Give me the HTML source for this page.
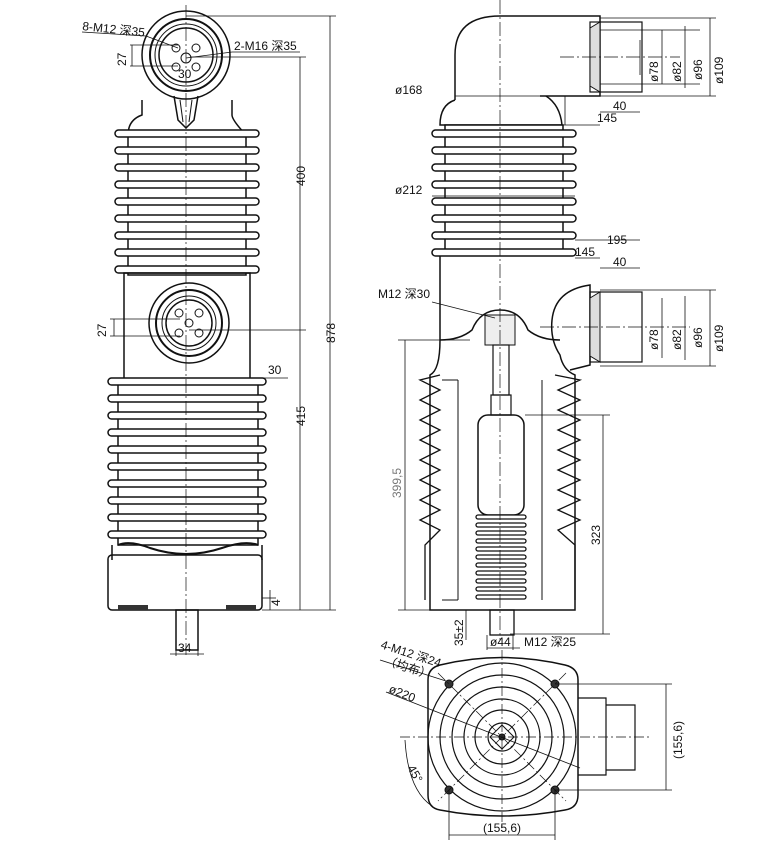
<!DOCTYPE html>
<html><head><meta charset="utf-8"><style>
html,body{margin:0;padding:0;background:#fff;}
svg{display:block;}
text{font-family:"Liberation Sans","Noto Sans CJK SC",sans-serif;font-size:12px;fill:#111;stroke:none;}
</style></head><body>
<svg width="784" height="849" viewBox="0 0 784 849" xmlns="http://www.w3.org/2000/svg" fill="none" stroke="#111" stroke-width="1">
<!-- ===== LEFT VIEW ===== -->
<path d="M142 100 L142 115 Q128 120 128 135 L246 135 Q232 120 232 115 L232 100" stroke-width="1.5"/>
<circle cx="186" cy="55" r="44" stroke-width="1.5"/>
<circle cx="186" cy="55" r="36" stroke-width="2"/>
<circle cx="186" cy="55" r="31"/>
<circle cx="186" cy="55" r="27" stroke-width="1.5"/>
<circle cx="186" cy="58" r="5"/>
<circle cx="176" cy="48" r="4"/><circle cx="196" cy="48" r="4"/>
<circle cx="176" cy="67" r="4"/><circle cx="196" cy="67" r="4"/>
<path d="M174 96 L178 120 L186 128 L194 120 L198 96" stroke-width="1.5"/>
<path d="M180 100 L183 122 M192 100 L189 122"/>
<rect x="128" y="135" width="118" height="140" fill="#fff" stroke-width="1.5"/>
<g stroke-width="1.5" fill="#fff">
<rect x="115" y="130" width="144" height="7" rx="3.5"/>
<rect x="115" y="147" width="144" height="7" rx="3.5"/>
<rect x="115" y="164" width="144" height="7" rx="3.5"/>
<rect x="115" y="181" width="144" height="7" rx="3.5"/>
<rect x="115" y="198" width="144" height="7" rx="3.5"/>
<rect x="115" y="215" width="144" height="7" rx="3.5"/>
<rect x="115" y="232" width="144" height="7" rx="3.5"/>
<rect x="115" y="249" width="144" height="7" rx="3.5"/>
<rect x="115" y="266" width="144" height="7" rx="3.5"/>
</g>
<rect x="124" y="273" width="126" height="107" stroke-width="1.5"/>
<circle cx="189" cy="323" r="40" stroke-width="1.5"/>
<circle cx="189" cy="323" r="33" stroke-width="2"/>
<circle cx="189" cy="323" r="27"/>
<circle cx="189" cy="323" r="23" stroke-width="1.5"/>
<circle cx="189" cy="323" r="4"/>
<circle cx="179" cy="313" r="4"/><circle cx="199" cy="313" r="4"/>
<circle cx="179" cy="333" r="4"/><circle cx="199" cy="333" r="4"/>
<rect x="118" y="380" width="140" height="165" fill="#fff" stroke-width="1.5"/>
<g stroke-width="1.5" fill="#fff">
<rect x="108" y="378" width="158" height="7" rx="3.5"/>
<rect x="108" y="395" width="158" height="7" rx="3.5"/>
<rect x="108" y="412" width="158" height="7" rx="3.5"/>
<rect x="108" y="429" width="158" height="7" rx="3.5"/>
<rect x="108" y="446" width="158" height="7" rx="3.5"/>
<rect x="108" y="463" width="158" height="7" rx="3.5"/>
<rect x="108" y="480" width="158" height="7" rx="3.5"/>
<rect x="108" y="497" width="158" height="7" rx="3.5"/>
<rect x="108" y="514" width="158" height="7" rx="3.5"/>
<rect x="108" y="531" width="158" height="7" rx="3.5"/>
</g>
<path d="M118 545 Q130 540 150 548 Q186 560 222 548 Q245 540 258 545" stroke-width="2"/>
<rect x="108" y="555" width="154" height="55" rx="4" stroke-width="1.5"/>
<path d="M112 545 L112 560 M262 545 L262 560" stroke-width="1.5"/>
<rect x="118" y="605" width="30" height="5" fill="#333" stroke="none"/>
<rect x="226" y="605" width="30" height="5" fill="#333" stroke="none"/>
<rect x="176" y="610" width="22" height="40" stroke-width="1.5"/>
<line x1="186" y1="5" x2="186" y2="655" stroke-width="0.7" stroke-dasharray="14 3 2 3"/>
<g stroke-width="0.8">
<line x1="186" y1="16" x2="336" y2="16"/>
<line x1="330" y1="16" x2="330" y2="610"/>
<line x1="262" y1="610" x2="336" y2="610"/>
<line x1="190" y1="57" x2="306" y2="57"/>
<line x1="300" y1="57" x2="300" y2="610"/>
<line x1="189" y1="330" x2="306" y2="330"/>
<line x1="260" y1="378" x2="288" y2="378"/>
<line x1="262" y1="598" x2="276" y2="598"/>
<line x1="270" y1="590" x2="270" y2="610"/>
<line x1="130" y1="45" x2="178" y2="45"/><line x1="130" y1="66" x2="178" y2="66"/>
<line x1="132" y1="45" x2="132" y2="66"/>
<line x1="110" y1="319" x2="180" y2="319"/><line x1="110" y1="336" x2="180" y2="336"/>
<line x1="114" y1="319" x2="114" y2="336"/>
<line x1="82" y1="32" x2="146" y2="36"/><line x1="146" y1="36" x2="178" y2="48"/>
<line x1="186" y1="58" x2="232" y2="52"/><line x1="232" y1="52" x2="300" y2="52"/>
<line x1="176" y1="650" x2="176" y2="656"/><line x1="198" y1="650" x2="198" y2="656"/>
<line x1="170" y1="654" x2="204" y2="654"/>
</g>
<text x="82" y="30" transform="rotate(6 82 30)">8-M12 深35</text>
<text x="234" y="50">2-M16 深35</text>
<text x="178" y="78">30</text>
<text x="126" y="66" transform="rotate(-90 126 66)">27</text>
<text x="106" y="337" transform="rotate(-90 106 337)">27</text>
<text x="268" y="374">30</text>
<text x="305" y="186" transform="rotate(-90 305 186)">400</text>
<text x="335" y="343" transform="rotate(-90 335 343)">878</text>
<text x="305" y="426" transform="rotate(-90 305 426)">415</text>
<text x="280" y="606" transform="rotate(-90 280 606)">4</text>
<text x="178" y="652">34</text>

<!-- ===== RIGHT VIEW ===== -->
<path d="M455 100 L455 55 Q455 16 500 16 L600 16 L600 96 L540 96" stroke-width="1.5"/>
<path d="M455 100 Q440 105 440 125 L562 125 Q560 105 546 96" stroke-width="1.5"/>
<rect x="445" y="125" width="118" height="130" fill="#fff" stroke-width="1.5"/>
<g stroke-width="1.5" fill="#fff">
<rect x="432" y="130" width="144" height="7" rx="3.5"/>
<rect x="432" y="147" width="144" height="7" rx="3.5"/>
<rect x="432" y="164" width="144" height="7" rx="3.5"/>
<rect x="432" y="181" width="144" height="7" rx="3.5"/>
<rect x="432" y="198" width="144" height="7" rx="3.5"/>
<rect x="432" y="215" width="144" height="7" rx="3.5"/>
<rect x="432" y="232" width="144" height="7" rx="3.5"/>
<rect x="432" y="249" width="144" height="7" rx="3.5"/>
</g>
<rect x="590" y="22" width="52" height="70" stroke-width="1.2"/>
<path d="M590 28 L600 22 L600 92 L590 86 Z" fill="#ddd"/>
<line x1="600" y1="30" x2="700" y2="30" stroke-width="0.8"/><line x1="600" y1="84" x2="700" y2="84" stroke-width="0.8"/>
<path d="M440 256 L440 340 Q440 370 430 375 L430 610 L575 610 L575 375 Q563 370 560 355 Q550 340 552 320 Q555 290 590 285 L590 365 L570 370" stroke-width="1.5"/>
<path d="M440 340 Q460 340 472 330 Q480 310 500 310 Q520 310 528 330 Q540 340 560 340" stroke-width="1.5"/>
<rect x="485" y="315" width="30" height="30" fill="#eee"/>
<rect x="590" y="292" width="52" height="70" stroke-width="1.2"/>
<path d="M590 298 L600 292 L600 362 L590 356 Z" fill="#ddd"/>
<path d="M440 375 L420 380 L440 390 L420 400 L440 410 L420 420 L440 430 L420 440 L440 450 L420 460 L440 470 L420 480 L440 490 L420 500 L440 510 L420 520 L440 530 L425 545 L425 600" stroke-width="1.3"/>
<path d="M555 375 L580 380 L558 390 L580 400 L558 410 L580 420 L558 430 L580 440 L558 450 L580 460 L558 470 L580 480 L558 490 L580 500 L558 510 L580 520 L558 530 L575 545 L575 600" stroke-width="1.3"/>
<path d="M442 380 L458 380 M442 600 L458 600 M458 380 L458 600" stroke-width="1"/>
<path d="M542 380 L542 600" stroke-width="1"/>
<rect x="493" y="345" width="16" height="50" stroke-width="1.2"/>
<rect x="491" y="395" width="20" height="20" stroke-width="1.2"/>
<rect x="478" y="415" width="46" height="100" rx="10" stroke-width="1.5"/>
<g stroke-width="1.3" fill="#fff">
<rect x="476" y="515" width="50" height="4" rx="2"/><rect x="476" y="523" width="50" height="4" rx="2"/>
<rect x="476" y="531" width="50" height="4" rx="2"/><rect x="476" y="539" width="50" height="4" rx="2"/>
<rect x="476" y="547" width="50" height="4" rx="2"/><rect x="476" y="555" width="50" height="4" rx="2"/>
<rect x="476" y="563" width="50" height="4" rx="2"/><rect x="476" y="571" width="50" height="4" rx="2"/>
<rect x="476" y="579" width="50" height="4" rx="2"/><rect x="476" y="587" width="50" height="4" rx="2"/>
<rect x="476" y="595" width="50" height="4" rx="2"/>
</g>
<rect x="490" y="610" width="24" height="25" stroke-width="1.3"/>
<line x1="500" y1="0" x2="500" y2="640" stroke-width="0.7" stroke-dasharray="14 3 2 3"/>
<line x1="560" y1="57" x2="680" y2="57" stroke-width="0.7" stroke-dasharray="14 3 2 3"/>
<line x1="540" y1="327" x2="690" y2="327" stroke-width="0.7" stroke-dasharray="14 3 2 3"/>
<g stroke-width="0.8">
<line x1="600" y1="18" x2="716" y2="18"/><line x1="600" y1="96" x2="716" y2="96"/>
<line x1="662" y1="30" x2="662" y2="84"/><line x1="685" y1="26" x2="685" y2="88"/><line x1="710" y1="18" x2="710" y2="96"/>
<line x1="640" y1="40" x2="640" y2="75"/>
<line x1="600" y1="112" x2="640" y2="112"/>
<line x1="455" y1="96" x2="560" y2="96"/>
<line x1="565" y1="96" x2="565" y2="125"/>
<line x1="560" y1="125" x2="600" y2="125"/>
<line x1="432" y1="196" x2="575" y2="196"/>
<line x1="575" y1="240" x2="640" y2="240"/>
<line x1="575" y1="258" x2="600" y2="258"/>
<line x1="600" y1="268" x2="640" y2="268"/>
<line x1="600" y1="290" x2="716" y2="290"/><line x1="600" y1="366" x2="716" y2="366"/>
<line x1="662" y1="298" x2="662" y2="358"/><line x1="685" y1="296" x2="685" y2="360"/><line x1="710" y1="290" x2="710" y2="366"/>
<line x1="432" y1="302" x2="495" y2="318"/>
<line x1="398" y1="340" x2="470" y2="340"/><line x1="405" y1="340" x2="405" y2="610"/><line x1="398" y1="610" x2="440" y2="610"/>
<line x1="525" y1="415" x2="610" y2="415"/><line x1="603" y1="415" x2="603" y2="634"/><line x1="510" y1="634" x2="610" y2="634"/>
<line x1="466" y1="610" x2="466" y2="640"/>
<line x1="487" y1="635" x2="487" y2="650"/><line x1="513" y1="635" x2="513" y2="650"/>
<line x1="487" y1="648" x2="520" y2="648"/>
</g>
<text x="395" y="94">ø168</text>
<text x="597" y="122">145</text>
<text x="395" y="194">ø212</text>
<text x="607" y="244">195</text>
<text x="575" y="256">145</text>
<text x="613" y="266">40</text>
<text x="613" y="110">40</text>
<text x="378" y="298">M12 深30</text>
<text x="658" y="82" transform="rotate(-90 658 82)">ø78</text>
<text x="681" y="82" transform="rotate(-90 681 82)">ø82</text>
<text x="702" y="80" transform="rotate(-90 702 80)">ø96</text>
<text x="723" y="84" transform="rotate(-90 723 84)">ø109</text>
<text x="658" y="350" transform="rotate(-90 658 350)">ø78</text>
<text x="681" y="350" transform="rotate(-90 681 350)">ø82</text>
<text x="702" y="348" transform="rotate(-90 702 348)">ø96</text>
<text x="723" y="352" transform="rotate(-90 723 352)">ø109</text>
<text x="401" y="498" transform="rotate(-90 401 498)" style="fill:#777">399,5</text>
<text x="600" y="545" transform="rotate(-90 600 545)">323</text>
<text x="463" y="646" transform="rotate(-90 463 646)">35±2</text>
<text x="490" y="646">ø44</text>
<text x="524" y="646">M12 深25</text>

<!-- ===== BOTTOM VIEW ===== -->
<path d="M440 665 Q502 650 565 665 Q578 668 578 680 L578 795 Q578 808 565 810 Q502 822 440 810 Q428 808 428 795 L428 680 Q428 668 440 665 Z" stroke-width="1.5"/>
<path d="M578 698 L606 698 L606 775 L578 775" stroke-width="1.2"/>
<path d="M606 705 L635 705 L635 770 L606 770" stroke-width="1.2"/>
<g stroke-width="1.2">
<circle cx="502" cy="737" r="74"/><circle cx="502" cy="737" r="62"/>
<circle cx="502" cy="737" r="50"/><circle cx="502" cy="737" r="38"/>
<circle cx="502" cy="737" r="27"/><circle cx="502" cy="737" r="14"/>
</g>
<path d="M502 725 L514 737 L502 749 L490 737 Z"/>
<circle cx="502" cy="737" r="3" fill="#333"/>
<g fill="#333"><circle cx="449" cy="684" r="4"/><circle cx="555" cy="684" r="4"/><circle cx="449" cy="790" r="4"/><circle cx="555" cy="790" r="4"/></g>
<g stroke-width="0.7" stroke-dasharray="10 3 2 3">
<line x1="400" y1="737" x2="650" y2="737"/><line x1="502" y1="650" x2="502" y2="830"/>
<line x1="438" y1="673" x2="566" y2="801"/><line x1="566" y1="673" x2="438" y2="801"/>
</g>
<g stroke-width="0.8">
<line x1="449" y1="790" x2="449" y2="840"/><line x1="555" y1="790" x2="555" y2="840"/><line x1="449" y1="835" x2="555" y2="835"/>
<line x1="555" y1="684" x2="672" y2="684"/><line x1="555" y1="790" x2="672" y2="790"/><line x1="666" y1="684" x2="666" y2="790"/>
<line x1="380" y1="660" x2="446" y2="681"/>
<line x1="386" y1="692" x2="580" y2="768"/>
<path d="M405 740 Q408 790 432 806"/>
</g>
<text x="380" y="648" transform="rotate(18 380 648)">4-M12 深24</text>
<text x="384" y="664" transform="rotate(18 384 664)">（均布）</text>
<text x="388" y="692" transform="rotate(22 388 692)">ø220</text>
<text x="407" y="768" transform="rotate(60 407 768)">45°</text>
<text x="483" y="832">(155,6)</text>
<text x="682" y="759" transform="rotate(-90 682 759)">(155,6)</text>
</svg>
</body></html>
